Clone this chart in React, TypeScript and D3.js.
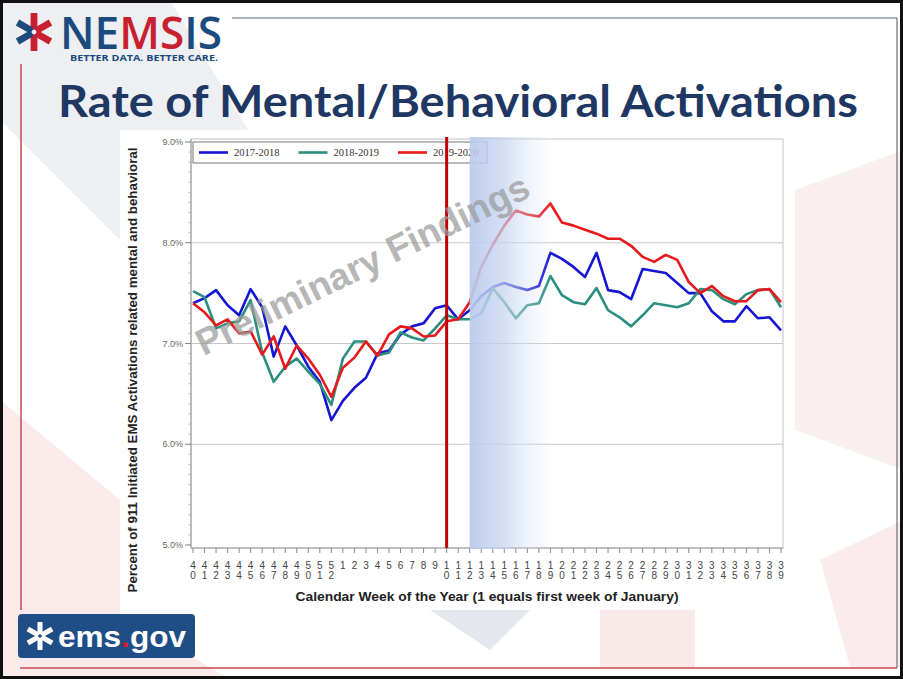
import React from 'react';
import * as d3 from 'd3';

const weekLabels = ['40','41','42','43','44','45','46','47','48','49','50','51','52','1','2','3','4','5','6','7','8','9','10','11','12','13','14','15','16','17','18','19','20','21','22','23','24','25','26','27','28','29','30','31','32','33','34','35','36','37','38','39'];

const seriesNames = ['2017-2018', '2018-2019', '2019-2020'];
const seriesColors = ['#1515d4', '#2a8f7e', '#e8191c'];

const values2017 = [7.40,7.45,7.53,7.38,7.28,7.54,7.36,6.87,7.17,6.98,6.77,6.62,6.24,6.43,6.56,6.66,6.90,6.93,7.09,7.17,7.20,7.35,7.38,7.24,7.33,7.47,7.56,7.60,7.56,7.53,7.57,7.90,7.84,7.76,7.66,7.90,7.53,7.51,7.44,7.74,7.72,7.70,7.60,7.50,7.50,7.32,7.22,7.22,7.37,7.25,7.26,7.13];
const values2018 = [7.52,7.46,7.15,7.20,7.22,7.43,6.91,6.62,6.77,6.85,6.72,6.60,6.39,6.85,7.02,7.02,6.88,6.91,7.11,7.06,7.03,7.15,7.28,7.24,7.24,7.30,7.55,7.41,7.25,7.38,7.40,7.67,7.48,7.41,7.39,7.55,7.33,7.26,7.17,7.28,7.40,7.38,7.36,7.40,7.54,7.53,7.44,7.39,7.49,7.53,7.54,7.36];
const values2019 = [7.40,7.31,7.18,7.24,7.10,7.12,6.89,7.07,6.75,6.98,6.85,6.69,6.47,6.76,6.86,7.02,6.88,7.09,7.17,7.15,7.07,7.08,7.22,7.24,7.41,7.76,7.98,8.17,8.32,8.28,8.26,8.39,8.20,8.17,8.13,8.09,8.04,8.04,7.97,7.86,7.81,7.88,7.83,7.61,7.50,7.57,7.47,7.42,7.42,7.53,7.54,7.41];

const yTicks = [5, 6, 7, 8, 9];
const markerWeek = '10';
const shadeWeek = '12';

const titleText = 'Rate of Mental/Behavioral Activations';
const yTitle = 'Percent of 911 Initiated EMS Activations related mental and behavioral';
const xTitle = 'Calendar Week of the Year (1 equals first week of January)';
const watermark = 'Preliminary Findings';

function StarOfLife({ cx, cy, r, colors }: { cx: number; cy: number; r: number; colors: string[] }) {
  const w = r * 0.36;
  const angles = [-90, 90, -30, 30, 150, 210];
  return (
    <g>
      {angles.map((a, i) => {
        const rad = (a * Math.PI) / 180;
        const ux = Math.cos(rad), uy = Math.sin(rad);
        const px = -uy, py = ux;
        const s = r * 0.12;
        const pts = [
          [cx + ux * s + px * w / 2, cy + uy * s + py * w / 2],
          [cx + ux * r + px * w / 2, cy + uy * r + py * w / 2],
          [cx + ux * r - px * w / 2, cy + uy * r - py * w / 2],
          [cx + ux * s - px * w / 2, cy + uy * s - py * w / 2],
        ];
        return <polygon key={i} points={pts.map(p => p.join(',')).join(' ')} fill={colors[i]} />;
      })}
    </g>
  );
}

export default function App() {
  const x = d3.scalePoint<string>().domain(weekLabels).range([193, 781]);
  const y = d3.scaleLinear().domain([5, 9]).range([545, 142]);
  const plotL = 191, plotR = 783, plotT = 139, plotB = 548;

  const series = [values2017, values2018, values2019];
  const line = d3.line<number>()
    .x((_, i) => x(weekLabels[i]) as number)
    .y(d => y(d));

  const minorTicks = d3.range(50, 91).map(v => v / 10);

  const mx = x(markerWeek) as number;
  const sx = x(shadeWeek) as number;

  return (
    <svg width={903} height={679} style={{ position: 'absolute', left: 0, top: 0, background: '#fff' }}
      fontFamily="'Liberation Sans', Arial, sans-serif">
      <defs>
        <linearGradient id="shade" x1="0" x2="1" y1="0" y2="0">
          <stop offset="0" stopColor="#b9caec" stopOpacity={0.95} />
          <stop offset="0.4" stopColor="#c4d3f0" stopOpacity={0.72} />
          <stop offset="1" stopColor="#dfe7f8" stopOpacity={0} />
        </linearGradient>
      </defs>
      {/* slide background shapes */}
      <rect x={0} y={0} width={903} height={679} fill="#ffffff" />
      <polygon points="0,0 170,0 320,250 130,250 0,120" fill="#e7eaef" opacity={0.75} />
      <polygon points="0,400 120,500 120,615 230,679 0,679" fill="#f6dcdc" opacity={0.6} />
      <polygon points="795,190 903,150 903,470 795,430" fill="#f4e2e2" opacity={0.55} />
      <polygon points="430,610 530,610 490,650" fill="#dde2ea" opacity={0.8} />
      <polygon points="600,610 695,610 695,667 600,667" fill="#f6e0e0" opacity={0.7} />
      <polygon points="820,560 903,520 903,667 850,667" fill="#f6e0e0" opacity={0.6} />

      {/* frame lines */}
      <line x1={232} y1={18} x2={897} y2={18} stroke="#4f6b8c" strokeWidth={1.2} />
      <line x1={21} y1={64} x2={21} y2={610} stroke="#c9484c" strokeWidth={1.5} />
      <line x1={20} y1={668} x2={897} y2={668} stroke="#c9484c" strokeWidth={1.5} />
      <line x1={897} y1={18} x2={897} y2={668} stroke="#555" strokeWidth={1} />
      <rect x={1.5} y={1.5} width={900} height={676} fill="none" stroke="#111" strokeWidth={3} />

      {/* NEMSIS logo */}
      <StarOfLife cx={34} cy={32} r={19} colors={['#c8202f', '#c8202f', '#c8202f', '#c8202f', '#1b4a7c', '#1b4a7c']} />
      <text x={60} y={49} fontFamily="'Open Sans', sans-serif" fontWeight={600} fontSize={45} textLength={162} lengthAdjust="spacingAndGlyphs">
        <tspan fill="#1b4a7c">NE</tspan><tspan fill="#c8202f">MS</tspan><tspan fill="#1b4a7c">IS</tspan>
      </text>
      <text x={70} y={61} fontFamily="'Open Sans', sans-serif" fontWeight={700} fontSize={9} fill="#1b4a7c" textLength={148} lengthAdjust="spacingAndGlyphs">BETTER DATA. BETTER CARE.</text>

      {/* Title */}
      <text x={58} y={117} fontFamily="Lato, 'Open Sans', sans-serif" fontWeight={700} fontSize={44} fill="#1f3763" textLength={800} lengthAdjust="spacingAndGlyphs">{titleText}</text>

      {/* chart panel */}
      <rect x={120} y={130} width={675} height={480} fill="#ffffff" />

      {/* grid */}
      {yTicks.filter(t => t > 5 && t < 9).map(t => (
        <line key={t} x1={plotL} x2={plotR} y1={y(t)} y2={y(t)} stroke="#c8c8c8" strokeWidth={1.2} />
      ))}
      <rect x={plotL} y={plotT} width={plotR - plotL} height={plotB - plotT} fill="none" stroke="#c4c4c4" strokeWidth={1} />
      <line x1={plotL} x2={plotL} y1={plotT} y2={plotB} stroke="#999" strokeWidth={1} />
      <line x1={plotL} x2={plotR} y1={plotB} y2={plotB} stroke="#999" strokeWidth={1} />

      {/* y axis ticks */}
      {minorTicks.map(t => (
        <line key={t} x1={plotL - 2.5} x2={plotL} y1={y(t)} y2={y(t)} stroke="#aaa" strokeWidth={0.8} />
      ))}
      {yTicks.map(t => (
        <g key={t}>
          <line x1={plotL - 6} x2={plotL} y1={y(t)} y2={y(t)} stroke="#888" strokeWidth={1} />
          <text x={plotL - 8} y={y(t)} dy="0.35em" textAnchor="end" fontSize={9} fill="#666">{t.toFixed(1)}%</text>
        </g>
      ))}

      {/* x axis ticks */}
      {weekLabels.map(w => {
        const xx = x(w) as number;
        const chars = w.split('');
        return (
          <g key={w}>
            <line x1={xx} x2={xx} y1={plotB} y2={plotB + 5} stroke="#888" strokeWidth={1} />
            {chars.map((c, k) => (
              <text key={k} x={xx} y={569 + k * 10} textAnchor="middle" fontSize={10} fill="#444">{c}</text>
            ))}
          </g>
        );
      })}

      {/* axis titles */}
      <text x={487} y={601} textAnchor="middle" fontSize={13} fontWeight={700} fill="#222" textLength={383} lengthAdjust="spacingAndGlyphs">{xTitle}</text>
      <text transform={`translate(137,370) rotate(-90)`} textAnchor="middle" fontSize={12.5} fontWeight={700} fill="#222" textLength={445} lengthAdjust="spacingAndGlyphs">{yTitle}</text>

      {/* series */}
      {series.map((vals, i) => (
        <path key={i} d={line(vals) || ''} fill="none" stroke={seriesColors[i]} strokeWidth={2.6} strokeLinejoin="round" />
      ))}

      {/* legend */}
      <rect x={193} y={142} width={294} height={21} fill="#fff" stroke="#777" strokeWidth={1} />
      {seriesNames.map((n, i) => (
        <g key={n} transform={`translate(${199 + i * 99.5},0)`}>
          <line x1={0} x2={29} y1={152.5} y2={152.5} stroke={seriesColors[i]} strokeWidth={2.6} />
          <text x={35} y={156} fontFamily="'Liberation Serif', 'Times New Roman', serif" fontSize={10.5} fill="#333">{n}</text>
        </g>
      ))}

      {/* marker line */}
      <line x1={mx} x2={mx} y1={137} y2={plotB} stroke="#c00000" strokeWidth={3} />

      {/* shaded region */}
      <rect x={sx} y={137} width={84} height={plotB - 137 + 1} fill="url(#shade)" />

      {/* watermark */}
      <text transform="translate(368,276) rotate(-26)" textAnchor="middle" fontSize={37} fontWeight={700} fill="#9a9a9a" opacity={0.72}>{watermark}</text>

      {/* ems.gov logo */}
      <rect x={18} y={614} width={177} height={44} rx={4} fill="#1f4e87" />
      <StarOfLife cx={40} cy={636} r={14} colors={['#fff', '#fff', '#fff', '#fff', '#fff', '#fff']} />
      <text x={58} y={647} fontSize={30} fontWeight={700} fill="#fff" textLength={128} lengthAdjust="spacingAndGlyphs">
        ems<tspan fill="#d0202e">.</tspan>gov
      </text>
    </svg>
  );
}
